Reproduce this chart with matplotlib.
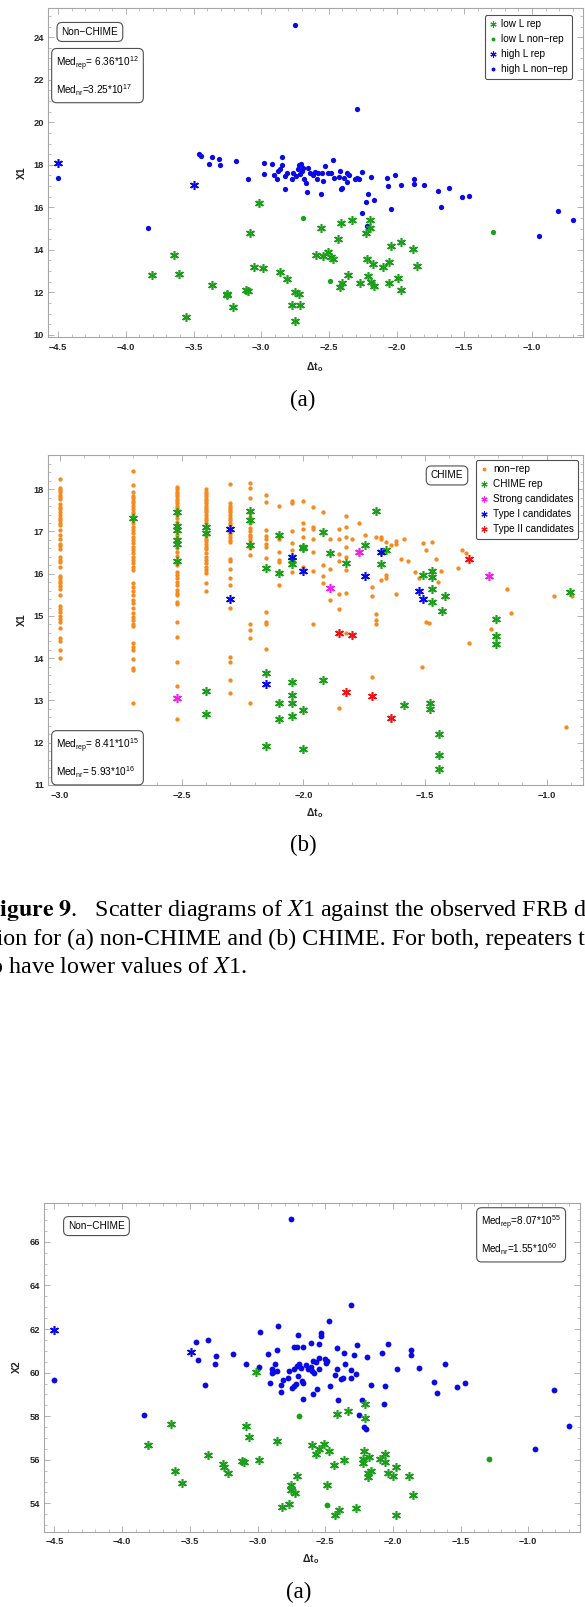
import numpy as np
import matplotlib
matplotlib.use("Agg")
import matplotlib.pyplot as plt
from matplotlib.lines import Line2D
from matplotlib.ticker import MultipleLocator

plt.rcParams['font.family'] = ['Liberation Sans', 'DejaVu Sans']
plt.rcParams['mathtext.fontset'] = 'custom'
plt.rcParams['mathtext.rm'] = 'Liberation Sans'
plt.rcParams['mathtext.it'] = 'Liberation Sans:italic'
plt.rcParams['mathtext.bf'] = 'Liberation Sans:bold'

# ---------------- data: panel (a) X1, non-CHIME ----------------
a1_low_rep = [(-3.81, 12.80), (-3.644, 13.78), (-3.605, 12.88), (-3.553, 10.83), (-3.36, 12.34),
              (-3.256, 11.94), (-3.25, 11.88), (-3.21, 11.30), (-3.11, 12.11), (-3.10, 12.05),
              (-3.085, 14.77), (-3.057, 13.20), (-3.013, 16.19), (-2.99, 13.16), (-2.86, 12.98),
              (-2.81, 12.63), (-2.77, 11.41), (-2.75, 12.02), (-2.747, 10.67), (-2.72, 11.91),
              (-2.71, 11.41), (-2.594, 13.78), (-2.558, 15.03), (-2.547, 13.69), (-2.505, 13.88),
              (-2.483, 13.66), (-2.47, 13.56), (-2.43, 14.53), (-2.42, 12.23), (-2.41, 15.28),
              (-2.40, 12.45), (-2.356, 12.83), (-2.33, 15.41), (-2.27, 12.45), (-2.226, 14.81),
              (-2.216, 13.59), (-2.21, 12.75), (-2.20, 15.39), (-2.20, 15.05), (-2.19, 12.47),
              (-2.176, 13.31), (-2.17, 12.31), (-2.10, 13.20), (-2.057, 13.41), (-2.057, 12.44),
              (-2.04, 14.19), (-1.993, 12.67), (-1.97, 14.36), (-1.97, 12.13), (-1.88, 14.03),
              (-1.85, 13.25)]
a1_low_nr = [(-2.688, 15.48), (-2.489, 12.55), (-1.287, 14.86)]
a1_high_rep = [(-4.503, 18.08), (-3.494, 17.06)]
a1_high_nr = [(-2.752, 24.58), (-2.292, 20.63), (-4.503, 17.38), (-3.838, 15.02), (-3.456, 18.52),
              (-3.442, 18.42), (-3.362, 18.36), (-3.309, 18.25), (-3.306, 18.0), (-3.384, 18.05),
              (-3.184, 18.17), (-2.254, 15.75), (-2.216, 15.13), (-2.04, 15.94), (-2.015, 17.5),
              (-1.97, 17.03), (-1.868, 17.31), (-1.868, 17.08), (-1.80, 17.03), (-1.697, 16.75),
              (-1.675, 16.0), (-1.61, 16.9), (-1.52, 16.5), (-1.464, 16.55), (-0.946, 14.63),
              (-0.805, 15.83), (-0.70, 15.41),
              (-3.095, 17.31), (-2.979, 18.09), (-2.979, 17.58), (-2.918, 18.05), (-2.903, 17.50),
              (-2.886, 17.34), (-2.878, 17.70), (-2.861, 17.81), (-2.849, 18.01), (-2.844, 18.36),
              (-2.824, 17.47), (-2.812, 17.62), (-2.824, 16.84), (-2.775, 17.31), (-2.763, 17.62),
              (-2.743, 17.47), (-2.726, 17.78), (-2.719, 17.97), (-2.706, 18.05), (-2.701, 17.70),
              (-2.713, 17.58), (-2.689, 17.86), (-2.682, 17.34), (-2.671, 17.16), (-2.664, 16.73),
              (-2.657, 17.86), (-2.640, 17.62), (-2.620, 17.50), (-2.603, 17.67), (-2.590, 17.34),
              (-2.578, 17.62), (-2.558, 16.61), (-2.553, 17.62), (-2.541, 17.26), (-2.527, 17.93),
              (-2.504, 17.62), (-2.484, 17.62), (-2.472, 18.21), (-2.460, 17.36), (-2.425, 17.44),
              (-2.418, 17.70), (-2.413, 16.84), (-2.401, 16.92), (-2.386, 17.39), (-2.369, 17.20),
              (-2.364, 17.62), (-2.349, 17.50), (-2.307, 17.31), (-2.295, 17.39), (-2.278, 17.34),
              (-2.258, 17.67), (-2.209, 16.61), (-2.228, 16.26), (-2.189, 17.44), (-2.165, 16.34),
              (-2.073, 17.39), (-2.061, 17.0)]

# ---------------- data: panel (b) X1, CHIME ----------------
b_nr_cols = [
    (-3.0, [18.25, 18.04, 17.98, 17.93, 17.87, 17.82, 17.76, 17.64, 17.59, 17.53, 17.46, 17.39, 17.32,
            17.27, 17.21, 17.15, 17.03, 16.92, 16.82, 16.71, 16.65, 16.59, 16.39, 16.33, 16.28, 16.17,
            15.95, 15.89, 15.83, 15.77, 15.71, 15.65, 15.50, 15.24, 15.16, 15.09, 15.01, 14.94, 14.86,
            14.71, 14.48, 14.41, 14.19, 14.01]),
    (-2.70, [18.42, 18.09, 17.93, 17.85, 17.79, 17.73, 17.67, 17.61, 17.54, 17.47, 17.41, 17.27, 17.19,
             17.10, 17.04, 16.96, 16.88, 16.80, 16.72, 16.64, 16.56, 16.48, 16.40, 16.33, 16.25, 16.17,
             16.09, 15.77, 15.69, 15.58, 15.50, 15.38, 15.30, 15.18, 15.08, 14.98, 14.90, 14.82, 14.77,
             14.35, 14.27, 14.19, 13.99, 13.76, 13.72, 12.95]),
    (-2.52, [18.05, 18.0, 17.94, 17.89, 17.83, 17.78, 17.72, 17.67, 17.61, 17.56, 17.50, 17.39, 17.31,
             17.23, 17.15, 17.08, 17.0, 16.92, 16.84, 16.76, 16.60, 16.52, 16.42, 16.26, 16.21, 16.05,
             15.97, 15.89, 15.81, 15.73, 15.61, 15.55, 15.50, 15.34, 15.28, 14.86, 14.51, 13.91, 13.34,
             12.57]),
    (-2.40, [18.0, 17.94, 17.89, 17.83, 17.78, 17.72, 17.67, 17.61, 17.56, 17.50, 17.45, 17.38, 17.32,
             17.26, 17.19, 16.89, 16.83, 16.77, 16.70, 16.64, 16.58, 16.48, 16.40, 16.33, 16.25, 16.17,
             16.09, 16.01, 15.77, 15.58]),
    (-2.30, [18.13, 17.67, 17.61, 17.56, 17.50, 17.45, 17.39, 17.33, 17.27, 17.20, 17.15, 16.99, 16.93,
             16.86, 16.80, 16.74, 16.34, 16.29, 16.11, 15.91, 15.74, 15.20, 14.03, 13.90, 13.48, 13.17]),
    (-2.22, [18.14, 18.04, 17.79, 17.43, 17.35, 17.19, 17.08, 17.0, 16.92, 16.86, 16.80, 16.72, 16.60,
             16.44, 14.81, 14.67, 14.47, 12.95]),
    (-2.155, [17.86, 17.69, 17.04, 16.89, 16.82, 16.70, 16.64, 16.38, 15.09, 14.86, 14.82, 14.21]),
    (-2.10, [17.61, 16.86, 16.82, 16.52, 16.33, 16.27, 16.03, 15.74]),
    (-2.045, [17.71, 17.67, 17.01, 16.72, 16.56, 16.03]),
    (-2.0, [17.73, 17.19, 17.07, 16.86, 16.17]),
    (-1.96, [17.57, 17.10, 17.05, 16.82, 16.52, 16.06, 14.82]),
    (-1.92, [17.47, 16.21, 15.95, 15.79]),
    (-1.89, [16.82, 16.12, 15.38]),
    (-1.855, [17.05, 16.82, 16.47, 16.29, 15.53, 15.17, 12.83]),
    (-1.825, [17.37, 17.10, 16.86, 16.63, 16.39, 16.09, 15.54, 14.60]),
    (-1.80, [16.82]),
    (-1.77, [17.21, 16.51]),
    (-1.745, [16.92]),
    (-1.72, [15.69, 15.48, 13.55]),
    (-1.70, [16.86, 15.05, 14.90, 14.81]),
    (-1.68, [16.86, 16.83, 16.48, 15.85]),
    (-1.66, [16.76, 15.98, 15.91]),
    (-1.64, [16.68]),
    (-1.62, [16.78, 16.70, 15.51]),
    (-1.60, [16.36]),
    (-1.585, [16.82]),
    (-1.57, [16.29]),
]
b_nr_extra = [(-1.51, 16.72), (-1.47, 16.75), (-1.496, 16.56), (-1.457, 16.36), (-1.54, 16.03),
              (-1.524, 15.91), (-1.435, 16.06), (-1.446, 15.81), (-1.348, 16.56), (-1.332, 16.50),
              (-1.366, 16.14), (-1.498, 14.85), (-1.485, 14.84), (-1.511, 13.80), (-1.164, 15.64),
              (-1.146, 15.07), (-1.231, 14.69), (-1.319, 14.37), (-0.969, 15.48), (-0.895, 15.48),
              (-0.919, 12.38)]
b_rep = [(-2.70, 17.33), (-2.52, 17.45), (-2.52, 17.12), (-2.52, 17.04), (-2.52, 16.80), (-2.52, 16.70),
         (-2.52, 16.31), (-2.40, 17.10), (-2.40, 16.96), (-2.40, 13.23), (-2.40, 12.67),
         (-2.22, 17.49), (-2.22, 17.27), (-2.22, 16.67), (-2.155, 16.13), (-2.155, 13.66), (-2.155, 11.92),
         (-2.10, 16.92), (-2.10, 16.01), (-2.10, 12.93), (-2.10, 12.56), (-2.045, 16.33), (-2.045, 16.23),
         (-2.045, 13.43), (-2.045, 13.14), (-2.045, 12.93), (-2.045, 12.64), (-2.0, 16.64), (-2.0, 16.60),
         (-2.0, 12.77), (-2.0, 11.86), (-1.92, 16.98), (-1.92, 13.48), (-1.89, 16.49), (-1.825, 16.25),
         (-1.745, 16.67), (-1.70, 17.49), (-1.68, 16.22), (-1.66, 16.55), (-1.585, 12.90),
         (-1.507, 15.97), (-1.47, 16.07), (-1.47, 15.92), (-1.47, 15.65), (-1.47, 15.32), (-1.42, 15.47),
         (-1.432, 15.12), (-1.48, 12.93), (-1.48, 12.79), (-1.444, 12.20), (-1.444, 11.70),
         (-1.444, 11.38), (-1.207, 14.92), (-1.207, 14.52), (-1.207, 14.33), (-0.903, 15.57)]
b_strong = [(-2.52, 13.05), (-1.89, 15.66), (-1.77, 16.51), (-1.236, 15.95)]
b_type1 = [(-2.30, 17.06), (-2.30, 15.40), (-2.155, 13.40), (-2.045, 16.39), (-2.0, 16.06),
           (-1.745, 15.94), (-1.68, 16.51), (-1.524, 15.58), (-1.507, 15.40)]
b_type2 = [(-1.855, 14.60), (-1.80, 14.56), (-1.825, 13.19), (-1.72, 13.10), (-1.64, 12.59),
           (-1.318, 16.36)]

# ---------------- data: second page panel (a) X2, non-CHIME ----------------
c_low_rep = [(-3.807, 56.66), (-3.641, 57.65), (-3.608, 55.47), (-3.555, 54.93), (-3.364, 56.23),
             (-3.253, 55.82), (-3.251, 55.69), (-3.22, 55.39), (-3.115, 55.95), (-3.101, 55.92),
             (-3.085, 57.57), (-3.062, 57.04), (-3.012, 60.05), (-2.99, 56.0), (-2.857, 56.85),
             (-2.819, 53.83), (-2.769, 53.97), (-2.755, 54.60), (-2.752, 54.84), (-2.722, 54.49),
             (-2.705, 55.27), (-2.60, 56.67), (-2.566, 56.26), (-2.544, 56.50), (-2.508, 56.72),
             (-2.486, 54.85), (-2.472, 56.40), (-2.436, 55.76), (-2.428, 53.45), (-2.414, 58.12),
             (-2.40, 53.69), (-2.359, 56.0), (-2.328, 58.24), (-2.273, 53.79), (-2.217, 56.41),
             (-2.223, 56.03), (-2.22, 55.85), (-2.204, 58.56), (-2.206, 57.91), (-2.179, 56.12),
             (-2.181, 55.39), (-2.181, 55.21), (-2.165, 55.50), (-2.093, 56.05), (-2.057, 56.26),
             (-2.055, 55.92), (-2.037, 55.39), (-1.999, 55.27), (-1.974, 55.69), (-1.974, 53.47),
             (-1.88, 55.24), (-1.85, 54.40)]
c_low_nr = [(-2.694, 58.03), (-2.489, 53.94), (-1.29, 56.05)]
c_high_rep = [(-4.5, 61.95), (-3.494, 60.95)]
c_high_nr = [(-2.755, 67.03), (-4.506, 59.66), (-3.841, 58.05), (-3.458, 61.40), (-3.442, 60.60),
             (-3.389, 59.44), (-3.364, 61.50), (-3.309, 60.78), (-3.312, 60.41), (-3.184, 60.84),
             (-3.087, 60.41), (-2.25, 58.06), (-2.215, 57.51), (-2.20, 57.42), (-1.971, 60.18),
             (-1.868, 61.04), (-1.868, 60.79), (-1.805, 60.21), (-1.697, 59.56), (-1.677, 59.05),
             (-1.614, 60.38), (-1.528, 59.34), (-1.467, 59.54), (-0.949, 56.50), (-0.807, 59.21),
             (-0.70, 57.57),
             (-2.310, 63.10), (-2.474, 62.37), (-2.846, 62.14), (-2.979, 61.86), (-2.703, 61.75),
             (-2.531, 61.80), (-2.529, 61.69), (-2.728, 61.19), (-2.706, 61.16), (-2.662, 61.16),
             (-2.607, 61.34), (-2.543, 61.31), (-2.415, 61.13), (-2.263, 61.27), (-2.039, 61.30),
             (-2.920, 60.85), (-2.854, 61.04), (-2.364, 60.90), (-2.285, 60.81), (-2.189, 60.70),
             (-2.078, 60.88), (-2.986, 60.24), (-2.871, 60.40), (-2.891, 60.17), (-2.883, 60.04),
             (-2.859, 60.07), (-2.891, 60.0), (-2.765, 60.09), (-2.728, 60.15), (-2.711, 60.30),
             (-2.691, 60.40), (-2.679, 60.20), (-2.642, 60.35), (-2.625, 60.15), (-2.605, 60.27),
             (-2.588, 60.55), (-2.568, 60.47), (-2.546, 60.69), (-2.600, 60.07), (-2.580, 60.0),
             (-2.543, 60.15), (-2.501, 60.61), (-2.489, 60.53), (-2.494, 60.43), (-2.356, 60.40),
             (-2.415, 60.15), (-2.428, 59.89), (-2.386, 59.71), (-2.371, 59.77), (-2.310, 60.12),
             (-2.310, 59.77), (-2.275, 59.94), (-2.908, 59.51), (-2.829, 59.43), (-2.814, 59.66),
             (-2.826, 59.13), (-2.772, 59.77), (-2.703, 59.86), (-2.674, 59.62), (-2.666, 59.51),
             (-2.748, 59.28), (-2.730, 59.39), (-2.718, 59.48), (-2.588, 59.02), (-2.558, 59.24),
             (-2.462, 59.39), (-2.661, 58.78), (-2.403, 58.75), (-2.231, 58.75), (-2.164, 59.43),
             (-2.058, 59.40), (-2.063, 58.55)]

GREEN = '#1ca01c'
BLUE = '#0a0ae6'
ORANGE = '#f58a1f'
MAGENTA = '#ee22ee'
RED = '#ee1414'
STAR = (6, 2, 0)
FRAME = '#a6a6a6'

W, H = 585, 1607
fig = plt.figure(figsize=(W / 100, H / 100), dpi=100)


def fx(px):
    return px / W


def fy(py):
    return 1 - py / H


def make_axes(left, right, top, bottom):
    return fig.add_axes([fx(left), fy(bottom), (right - left) / W, (bottom - top) / H])


def style(ax, xt, yt, xminor, yminor):
    for s in ax.spines.values():
        s.set_color(FRAME)
        s.set_linewidth(0.8)
    ax.set_xticks(xt)
    ax.set_xticklabels([f"{v:.1f}".replace('-', '\u2212') for v in xt], fontweight='bold')
    ax.set_yticks(yt)
    ax.set_yticklabels([f"{v:g}" for v in yt], fontweight='bold')
    ax.xaxis.set_minor_locator(MultipleLocator(xminor))
    ax.yaxis.set_minor_locator(MultipleLocator(yminor))
    ax.tick_params(which='both', direction='in', top=True, right=True, color=FRAME,
                   labelcolor='#262626', labelsize=6.7)
    ax.tick_params(which='major', length=4, width=0.6)
    ax.tick_params(which='minor', length=2, width=0.5)
    ax.tick_params(axis='x', pad=4)
    ax.tick_params(axis='y', pad=2.5)


def pts(ax, data, kind, color, ms=None):
    xs = [p[0] for p in data]
    ys = [p[1] for p in data]
    if kind == 'star':
        ax.plot(xs, ys, ls='none', marker=STAR, ms=ms or 6.4, mew=1.15, color=color)
    else:
        ax.plot(xs, ys, ls='none', marker='o', ms=ms or 3.8, mew=0, color=color)


def textbox(ax, x, y, s, ha='center', va='center', ls=1.2):
    ax.text(x, y, s, transform=ax.transAxes, ha=ha, va=va, fontsize=7.2, linespacing=ls,
            bbox=dict(boxstyle='round,pad=0.45,rounding_size=0.5', fc='white', ec='#505050', lw=0.8))


def legend(ax, handles, labels, anchor):
    leg = ax.legend(handles, labels, loc='upper right', bbox_to_anchor=anchor, borderaxespad=0,
                    fontsize=7.2, frameon=True, fancybox=True, edgecolor='#505050', framealpha=1,
                    handlelength=0.7, handletextpad=0.5, borderpad=0.45, labelspacing=0.5)
    leg.get_frame().set_linewidth(0.8)


def h_star(c):
    return Line2D([], [], ls='none', marker=STAR, ms=4.5, mew=0.8, color=c)


def h_dot(c):
    return Line2D([], [], ls='none', marker='o', ms=2.8, mew=0, color=c)


# ---------------- panel (a) X1 ----------------
ax1 = make_axes(47.6, 583, 8.3, 337)
pts(ax1, a1_high_nr, 'dot', BLUE)
pts(ax1, a1_low_nr, 'dot', GREEN)
pts(ax1, a1_low_rep, 'star', GREEN)
pts(ax1, a1_high_rep, 'star', BLUE)
ax1.set_xlim(-4.578, -0.623)
ax1.set_ylim(9.9, 25.36)
style(ax1, [-4.5, -4.0, -3.5, -3.0, -2.5, -2.0, -1.5, -1.0], [10, 12, 14, 16, 18, 20, 22, 24], 0.1, 0.5)
legend(ax1, [h_star(GREEN), h_dot(GREEN), h_star(BLUE), h_dot(BLUE)],
       ['low L rep', 'low L non\u2212rep', 'high L rep', 'high L non\u2212rep'], (0.98, 0.98))
textbox(ax1, 0.079, 0.928, 'Non\u2212CHIME')
textbox(ax1, 0.016, 0.858, 'Med$_{\\mathrm{rep}}$= 6.36*10$^{12}$\nMed$_{\\mathrm{nr}}$=3.25*10$^{17}$',
        ha='left', va='top', ls=1.8)

# ---------------- panel (b) X1 CHIME ----------------
ax2 = make_axes(47.6, 583, 455, 785)
nr_pts = [(cx, cy) for cx, col in b_nr_cols for cy in col] + b_nr_extra
pts(ax2, nr_pts, 'dot', ORANGE, ms=3.1)
pts(ax2, b_rep, 'star', GREEN)
pts(ax2, b_strong, 'star', MAGENTA)
pts(ax2, b_type1, 'star', BLUE)
pts(ax2, b_type2, 'star', RED)
ax2.set_xlim(-3.051, -0.851)
ax2.set_ylim(11.0, 18.81)
style(ax2, [-3.0, -2.5, -2.0, -1.5, -1.0], [11, 12, 13, 14, 15, 16, 17, 18], 0.1, 0.2)
legend(ax2, [h_dot(ORANGE), h_star(GREEN), h_star(MAGENTA), h_star(BLUE), h_star(RED)],
       ['non\u2212rep', 'CHIME rep', 'Strong candidates', 'Type I candidates', 'Type II candidates'],
       (0.991, 0.985))
textbox(ax2, 0.746, 0.938, 'CHIME')
textbox(ax2, 0.016, 0.145, 'Med$_{\\mathrm{rep}}$= 8.41*10$^{15}$\nMed$_{\\mathrm{nr}}$= 5.93*10$^{16}$',
        ha='left', va='top', ls=1.8)

# ---------------- page 2 panel (a) X2 ----------------
ax3 = make_axes(43.9, 580.4, 1202.7, 1531.7)
pts(ax3, c_high_nr, 'dot', BLUE, ms=4.2)
pts(ax3, c_low_nr, 'dot', GREEN, ms=4.2)
pts(ax3, c_low_rep, 'star', GREEN)
pts(ax3, c_high_rep, 'star', BLUE)
ax3.set_xlim(-4.578, -0.615)
ax3.set_ylim(52.7, 67.8)
style(ax3, [-4.5, -4.0, -3.5, -3.0, -2.5, -2.0, -1.5, -1.0], [54, 56, 58, 60, 62, 64, 66], 0.1, 0.5)
textbox(ax3, 0.098, 0.929, 'Non\u2212CHIME')
textbox(ax3, 0.815, 0.965, 'Med$_{\\mathrm{rep}}$=8.07*10$^{55}$\nMed$_{\\mathrm{nr}}$=1.55*10$^{60}$',
        ha='left', va='top', ls=1.8)

# axis titles
for x, y in [(315, 367), (315, 813), (310.5, 1559)]:
    fig.text(fx(x), fy(y), '\u0394t$_{\\mathbf{o}}$', ha='center', va='center', fontsize=7.5,
             fontweight='bold', color='#262626')
for x, y, s in [(21.7, 173, 'X1'), (21.7, 620, 'X1'), (16.9, 1367, 'X2')]:
    fig.text(fx(x), fy(y), s, ha='center', va='center', rotation=90, fontsize=7.5,
             fontweight='bold', color='#262626')

# sub-figure labels
for x, y, s in [(303, 400, '(a)'), (303, 845, '(b)'), (299, 1592, '(a)')]:
    fig.text(fx(x), fy(y), s, ha='center', va='center', fontsize=16.5, family='Liberation Serif')

# caption (the page is cropped on both sides, as in the source)
cap = dict(fontsize=17.3, family='Liberation Serif', math_fontfamily='stix', va='baseline', ha='left')
fig.text(fx(-15), fy(916), r"$\mathbf{Figure\ 9}$.   Scatter diagrams of $X$1 against the observed FRB duration", **cap)
fig.text(fx(-10), fy(944.5), "tion for (a) non-CHIME and (b) CHIME. For both, repeaters tend", **cap)
fig.text(fx(-16), fy(973), r"to have lower values of $X$1.", **cap)

fig.savefig('out.png', dpi=100)
